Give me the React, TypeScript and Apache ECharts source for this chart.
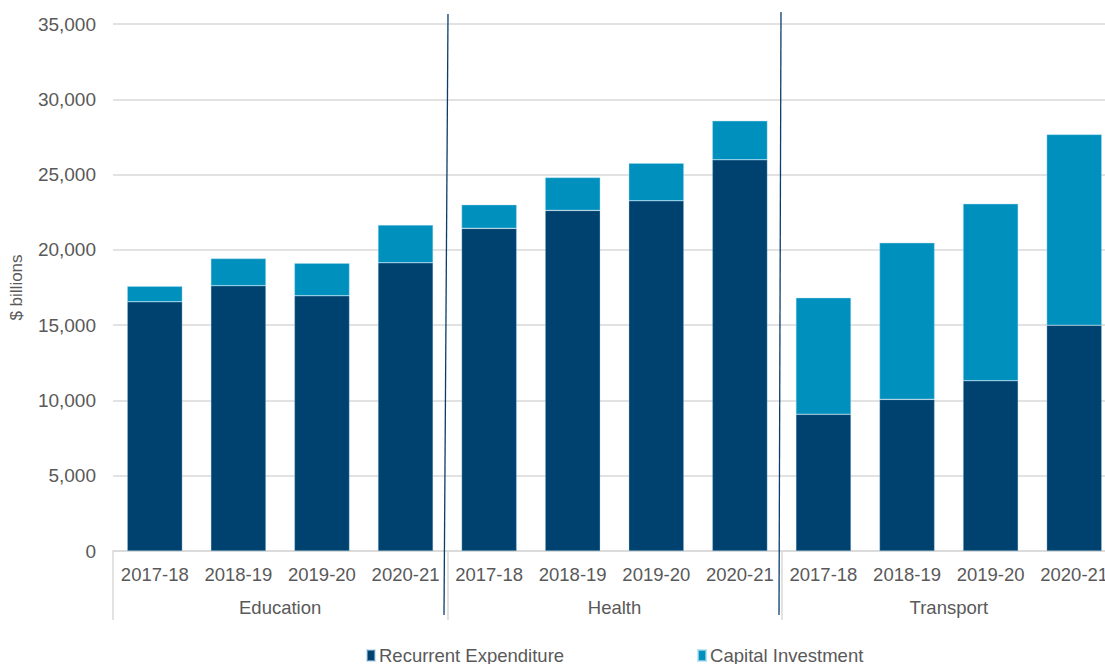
import React, { useEffect, useRef } from "react";
import * as echarts from "echarts";

const years = ["2017-18", "2018-19", "2019-20", "2020-21"];
const groups = ["Education", "Health", "Transport"];
const categories = groups.flatMap(() => years);
const recurrent = [16550, 17620, 16950, 19140, 21430, 22620, 23260, 25980, 9080, 10070, 11310, 14990];
const capital = [1030, 1810, 2170, 2510, 1570, 2190, 2500, 2590, 7740, 10400, 11750, 12680];
const yTicks = { min: 0, max: 35000, interval: 5000 };

const FONT = "'Liberation Sans', Arial, sans-serif";
const TEXT = "#595959";

export default function App() {
  const ref = useRef<HTMLDivElement>(null);
  useEffect(() => {
    document.body.style.margin = "0";
    const chart = echarts.init(ref.current!, null, { renderer: "svg" });
    chart.setOption({
      animation: false,
      textStyle: { fontFamily: FONT },
      grid: { left: 113, right: 0, top: 24, bottom: 113 },
      legend: {
        left: 366,
        top: 646,
        padding: 0,
        itemGap: 133,
        itemWidth: 8,
        itemHeight: 11,
        icon: "rect",
        textStyle: { fontSize: 18.5, color: TEXT, fontFamily: FONT, padding: [0, 0, 0, -1] },
        data: ["Recurrent Expenditure", "Capital Investment"],
      },
      xAxis: [
        {
          type: "category",
          data: categories,
          position: "bottom",
          axisLine: { show: true, lineStyle: { color: "#d9d9d9", width: 1.5 } },
          axisTick: { show: false },
          axisLabel: { color: TEXT, fontSize: 18.5, margin: 14, interval: 0, fontFamily: FONT },
        },
        {
          type: "category",
          data: groups,
          position: "bottom",
          axisLine: { show: false },
          axisTick: { show: true, length: 69, lineStyle: { color: "#d9d9d9", width: 1.5 } },
          axisLabel: { color: TEXT, fontSize: 18.5, margin: 47, fontFamily: FONT },
        },
      ],
      yAxis: {
        type: "value",
        min: yTicks.min,
        max: yTicks.max,
        interval: yTicks.interval,
        name: "$ billions",
        nameLocation: "middle",
        nameRotate: 90,
        nameGap: 88,
        nameTextStyle: { color: TEXT, fontSize: 17, fontFamily: FONT },
        axisLine: { show: false },
        axisTick: { show: false },
        axisLabel: {
          color: TEXT,
          fontSize: 19,
          margin: 17,
          fontFamily: FONT,
          formatter: (v: number) => v.toLocaleString("en-US"),
        },
        splitLine: { lineStyle: { color: "#d9d9d9", width: 1.5 } },
      },
      series: [
        {
          name: "Recurrent Expenditure",
          type: "bar",
          stack: "total",
          barWidth: "66%",
          data: recurrent,
          itemStyle: { color: "#00426f", borderColor: "rgba(170,210,235,0.55)", borderWidth: 0.6 },
        },
        {
          name: "Capital Investment",
          type: "bar",
          stack: "total",
          barWidth: "66%",
          data: capital,
          itemStyle: { color: "#0090bd", borderColor: "rgba(170,220,240,0.7)", borderWidth: 0.6 },
        },
      ],
      graphic: [
        {
          type: "line",
          shape: { x1: 448, y1: 14, x2: 444, y2: 615 },
          style: { stroke: "#0a3d6b", lineWidth: 1.3 },
          z: 100,
        },
        {
          type: "line",
          shape: { x1: 781, y1: 12, x2: 779, y2: 615 },
          style: { stroke: "#0a3d6b", lineWidth: 1.3 },
          z: 100,
        },
      ],
    });
    return () => chart.dispose();
  }, []);
  return (
    <div style={{ width: 1105, height: 664, overflow: "hidden", position: "relative" }}>
      <div ref={ref} style={{ width: 1116, height: 664 }} />
    </div>
  );
}
